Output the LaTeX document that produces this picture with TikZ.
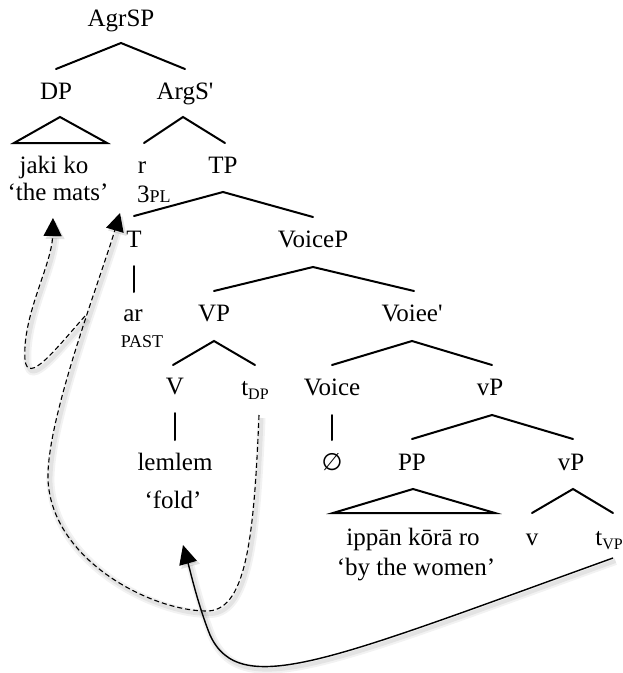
\documentclass[tikz,border=0pt]{standalone}
\usepackage{fontspec}
\setmainfont{Liberation Serif}
\newfontfamily\emptysetfont{DejaVu Sans}
\usetikzlibrary{calc,arrows.meta}
% lowered small subscript used for traces
\newcommand\tracesub[1]{\raisebox{-4pt}{\fontsize{16}{16}\selectfont #1}}

\begin{document}
\begin{tikzpicture}[x=1pt,y=-1pt,
  lbl/.style={inner sep=0pt, anchor=base, font=\fontsize{25}{30}\selectfont},
  sml/.style={inner sep=0pt, anchor=base, font=\fontsize{18}{21}\selectfont},
  branch/.style={line width=2pt, line cap=round},
  softshadow/.style={
    preaction={draw=black, opacity=0.05, line width=8pt, solid,
      transform canvas={xshift=2.5pt,yshift=-3pt}},
    preaction={draw=black, opacity=0.06, line width=4pt, solid,
      transform canvas={xshift=2.5pt,yshift=-3pt}}},
  movement/.style={softshadow, line width=1.1pt, dash pattern=on 5pt off 3pt,
    -{Triangle[length=18pt,width=18pt]}},
  solidmove/.style={softshadow, line width=1.4pt, -{Triangle[length=19pt,width=18pt]}}]

\fill[white] (0,0) rectangle (623,673);
\useasboundingbox (0,0) rectangle (623,673);

% ---- labels ----
\node[lbl] (AgrSP) at (121,26) {AgrSP};
\node[lbl] (DP) at (56,99) {DP};
\node[lbl] (ArgSbar) at (185,99) {ArgS\textquotesingle};
\node[lbl] (jaki) at (54,173) {jaki ko};
\node[lbl] (mats) at (58,200) {‘the mats’};
\node[lbl] (r) at (142,173) {r};
\node[lbl, anchor=base west] (agr) at (137,202) {3\fontsize{18}{21}\selectfont PL};
\node[lbl] (TP) at (223,173) {TP};
\node[lbl] (T) at (134,247) {T};
\node[lbl] (VoiceP) at (313,247) {VoiceP};
\node[lbl] (ar) at (133,321) {ar};
\node[sml] (past) at (142,347) {PAST};
\node[lbl] (VP) at (214,321) {VP};
\node[lbl] (Voicebar) at (412,321) {Voiee\textquotesingle};
\node[lbl] (V) at (175,394) {V};
\node[lbl] (tDP) at (255,395) {t\tracesub{DP}};
\node[lbl] (Voice) at (332,395) {Voice};
\node[lbl] (vP) at (490,395) {vP};
\node[lbl] (lemlem) at (175,470) {lemlem};
\node[lbl] (fold) at (173,508) {‘fold’};
\node[lbl, font=\emptysetfont\fontsize{24}{28}\selectfont] (null) at (332,470) {∅};
\node[lbl] (PP) at (412,470) {PP};
\node[lbl] (vPlow) at (571,470) {vP};
\node[lbl] (ippan) at (413,545) {ippān kōrā ro};
\node[lbl] (women) at (416,575) {‘by the women’};
\node[lbl] (v) at (532,545) {v};
\node[lbl] (tVP) at (609,545) {t\tracesub{VP}};

% ---- branches ----
\draw[branch] ($(DP.base)+(0,-30)$) -- ($(AgrSP.base)+(0,17)$) -- ($(ArgSbar.base)+(0,-30)$);
\draw[branch] ($(r.base)+(2,-30)$) -- ($(ArgSbar.base)+(-2,18)$) -- ($(TP.base)+(2,-30)$);
\draw[branch] ($(jaki.base)+(-40,-30)$) -- ($(DP.base)+(4,18)$) -- ($(jaki.base)+(53,-30)$) -- cycle;
\draw[branch] ($(T.base)+(0,-31)$) -- ($(TP.base)+(0,19)$) -- ($(VoiceP.base)+(0,-30)$);
\draw[branch] ($(T.base)+(0,19)$) -- ($(ar.base)+(1,-29)$);
\draw[branch] ($(VP.base)+(0,-30)$) -- ($(VoiceP.base)+(0,20)$) -- ($(Voicebar.base)+(2,-30)$);
\draw[branch] ($(V.base)+(-2,-29)$) -- ($(VP.base)+(0,20)$) -- ($(tDP.base)+(0,-30)$);
\draw[branch] ($(Voice.base)+(0,-30)$) -- ($(Voicebar.base)+(0,20)$) -- ($(vP.base)+(2,-30)$);
\draw[branch] ($(V.base)+(0,19)$) -- ($(lemlem.base)+(0,-30)$);
\draw[branch] ($(Voice.base)+(0,20)$) -- ($(null.base)+(0,-30)$);
\draw[branch] ($(PP.base)+(0,-31)$) -- ($(vP.base)+(2,20)$) -- ($(vPlow.base)+(2,-31)$);
\draw[branch] ($(ippan.base)+(-80,-32)$) -- ($(PP.base)+(1,19)$) -- ($(ippan.base)+(82,-32)$) -- cycle;
\draw[branch] ($(v.base)+(0,-32)$) -- ($(vPlow.base)+(2,19)$) -- ($(tVP.base)+(4,-32)$);

% ---- movement arrows ----
\coordinate (tDPfoot) at ($(tDP.base)+(4,20)$);
\coordinate (Tland) at ($(T.base)+(-14,-34)$);
\coordinate (split) at (85,316);
\coordinate (matsland) at ($(mats.base)+(-5,18)$);
\coordinate (tVPfoot) at ($(tVP.base)+(4,13)$);
\coordinate (foldland) at ($(fold.base)+(10,37)$);

\draw[movement] (tDPfoot) .. controls (254,540) and (246,613) .. (205,611)
  .. controls (150,610) and (52,560) .. (48,480)
  .. controls (46,420) and (100,280) .. (Tland);
\draw[movement] (split) .. controls (55,350) and (28,385) .. (25,360)
  .. controls (22,315) and (52,265) .. (matsland);
\draw[solidmove] (tVPfoot) .. controls (330,660) and (240,700) .. (210,635)
  .. controls (198,605) and (190,570) .. (foldland);
\end{tikzpicture}
\end{document}
